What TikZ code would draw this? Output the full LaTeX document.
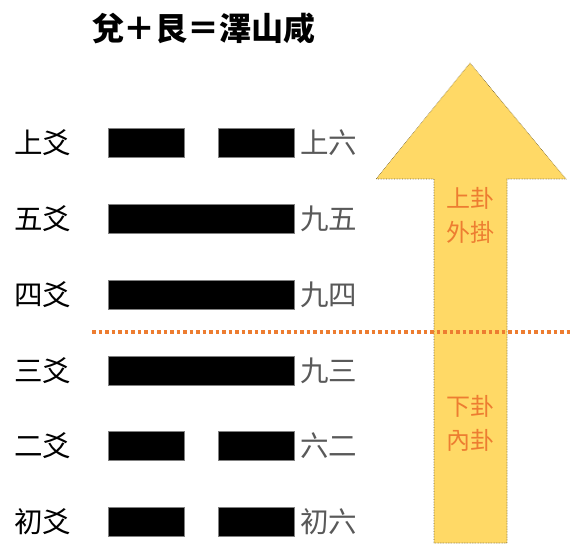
\documentclass[tikz,border=0pt]{standalone}
\usepackage{fontspec}
\setmainfont{Noto Sans CJK TC}
\usetikzlibrary{positioning}

\begin{document}
\begin{tikzpicture} [
	x = 1pt, y = -1pt,
	title/.style = {font=\bfseries\fontsize{32}{32}\selectfont, inner sep=0pt},
	yao/.style = {font=\fontsize{28.5}{28}\selectfont, anchor=west, inner sep=0pt},
	yaoname/.style = {font=\fontsize{28.5}{28}\selectfont, text={rgb,255:red,89;green,89;blue,89}, inner sep=0pt},
	yin/.style = {draw=gray, fill=black, minimum width=76pt, minimum height=29pt, inner sep=0pt},
	yang/.style = {draw=gray, fill=black, minimum width=186pt, minimum height=29pt, inner sep=0pt},
	gua/.style = {font=\fontsize{24}{34}\selectfont, text={rgb,255:red,237;green,125;blue,49}, align=center, inner sep=0pt},
	bigarrow/.style = {fill={rgb,255:red,255;green,217;blue,102}, draw={rgb,255:red,110;green,95;blue,50}, densely dotted, line width=0.6pt},
	cut/.style = {draw={rgb,255:red,237;green,125;blue,49}, line width=3.5pt, dash pattern=on 3.5pt off 3pt}
]
\useasboundingbox (0,0) rectangle (571,556);

% arrow behind everything
\fill [bigarrow] (434,543) -- (434,179) -- (376,179) -- (470,63) -- (566,179) -- (507,179) -- (507,543) -- cycle;
\node [gua] (upper) at (470,215) {上卦\\外掛};
\node [gua] (lower) at (470,423) {下卦\\內卦};

\node [title] (head) at (204,28) {兌＋艮＝澤山咸};

% lines, top to bottom
\node [yin] (b6l) at (146,143) {};
\node [yin] (b6r) at (256,143) {};
\node [yang] (b5) at (201,219) {};
\node [yang] (b4) at (201,295) {};
\node [yang] (b3) at (201,371) {};
\node [yin] (b2l) at (146,446) {};
\node [yin] (b2r) at (256,446) {};
\node [yin] (b1l) at (146,522) {};
\node [yin] (b1r) at (256,522) {};

\node [yao] (y6) at (14,143) {上爻};
\node [yao] (y5) at (14,219) {五爻};
\node [yao] (y4) at (14,295) {四爻};
\node [yao] (y3) at (14,371) {三爻};
\node [yao] (y2) at (14,446) {二爻};
\node [yao] (y1) at (14,522) {初爻};

\node [yaoname, right=6pt of b6r] (n6) {上六};
\node [yaoname, right=6pt of b5] (n5) {九五};
\node [yaoname, right=6pt of b4] (n4) {九四};
\node [yaoname, right=6pt of b3] (n3) {九三};
\node [yaoname, right=6pt of b2r] (n2) {六二};
\node [yaoname, right=6pt of b1r] (n1) {初六};

\coordinate (cutL) at (92,332);
\coordinate (cutR) at (571,332);
\draw [cut] (cutL) -- (cutR);
\end{tikzpicture}
\end{document}
